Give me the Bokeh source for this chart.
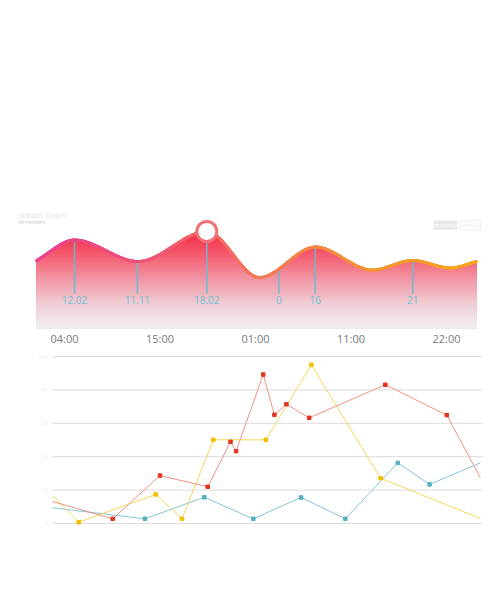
import numpy as np
from bokeh.plotting import figure
from bokeh.layouts import column
from bokeh.models import Range1d, FixedTicker, Label
from bokeh.core.properties import value
from bokeh.embed import file_html
from bokeh.resources import INLINE

# ---------------- data: top wave chart ----------------
time_ticks = [1, 2, 3, 4, 5]
time_labels = ["04:00", "15:00", "01:00", "11:00", "22:00"]
wave_x = [0.707, 1.105, 1.770, 2.490, 3.042, 3.628, 4.222, 4.647, 5.042, 5.314]
wave_y = [6.8, 8.85, 6.7, 9.7, 5.1, 8.15, 5.85, 6.8, 6.05, 6.7]
note_x = [1.105, 1.764, 2.490, 3.244, 3.625, 4.647]
note_labels = ["12.02", "11.11", "18.02", "0", "16", "21"]
peak_index = 3

TITLE = "Statistic Graph"
SUBTITLE = "All members"
TOGGLE = ["monthly", "weekly"]

# ---------------- data: bottom line chart ----------------
y_ticks = [0, 20, 40, 60, 80, 100]
y_tick_labels = ["0", "20", "40", "60", "80", "100"]
red_x = [0, 14.0, 25.0, 36.1, 41.4, 42.7, 49.0, 51.6, 54.4, 59.7, 77.4, 91.7, 99.5]
red_y = [13.2, 2.8, 28.7, 22.0, 48.9, 43.3, 89.2, 65.1, 71.4, 63.3, 83.1, 64.9, 27.4]
yellow_x = [0, 6.1, 24.0, 30.1, 37.4, 49.6, 60.2, 76.3, 99.5]
yellow_y = [16.8, 0.8, 17.4, 2.8, 50.1, 50.1, 95.0, 27.1, 3.0]
teal_x = [0, 21.5, 35.3, 46.7, 57.8, 68.1, 80.3, 87.7, 99.5]
teal_y = [9.4, 2.8, 15.7, 2.8, 15.6, 2.8, 36.3, 23.4, 36.3]


def pchip(xk, yk, xs):
    xk = np.asarray(xk, float)
    yk = np.asarray(yk, float)
    h = np.diff(xk)
    d = np.diff(yk) / h
    n = len(xk)
    m = np.zeros(n)
    for i in range(1, n - 1):
        if d[i - 1] * d[i] > 0:
            w1 = 2 * h[i] + h[i - 1]
            w2 = h[i] + 2 * h[i - 1]
            m[i] = (w1 + w2) / (w1 / d[i - 1] + w2 / d[i])
    m[0] = d[0]
    m[-1] = d[-1]
    xs = np.asarray(xs, float)
    idx = np.clip(np.searchsorted(xk, xs) - 1, 0, n - 2)
    t = (xs - xk[idx]) / h[idx]
    h00 = 2 * t**3 - 3 * t**2 + 1
    h10 = t**3 - 2 * t**2 + t
    h01 = -2 * t**3 + 3 * t**2
    h11 = t**3 - t**2
    return (h00 * yk[idx] + h10 * h[idx] * m[idx]
            + h01 * yk[idx + 1] + h11 * h[idx] * m[idx + 1])


def mix(stops, t):
    for (t0, c0), (t1, c1) in zip(stops[:-1], stops[1:]):
        if t <= t1:
            f = 0 if t1 == t0 else max(0.0, (t - t0) / (t1 - t0))
            c = [round(a + (b - a) * f) for a, b in zip(c0, c1)]
            return "#%02x%02x%02x" % tuple(c)
    return "#%02x%02x%02x" % stops[-1][1]


FONT = value("Open Sans")

# ---------------- top figure ----------------
top = figure(width=500, height=348, output_backend="svg", toolbar_location=None,
             x_range=Range1d(0.4136, 5.4817), y_range=Range1d(0, 32),
             min_border_left=8, min_border_right=8, min_border_top=8, min_border_bottom=20)
top.outline_line_color = None
top.grid.visible = False
top.yaxis.visible = False
top.background_fill_color = "white"
top.border_fill_color = "white"

xs = np.linspace(wave_x[0], wave_x[-1], 500)
ys = pchip(wave_x, wave_y, xs)

fill_stops = [(0, (241, 239, 240)), (2.5, (240, 205, 212)), (5, (242, 148, 163)),
              (7.5, (245, 88, 108)), (10, (246, 36, 64))]
ytop = float(ys.max())
N = 70
for k in range(N - 1, -1, -1):
    hi = (k + 1) * ytop / N
    mid = (k + 0.5) * ytop / N
    top.varea(x=xs, y1=0, y2=np.minimum(ys, hi), fill_color=mix(fill_stops, mid))

# annotation stems and labels
note_top = pchip(wave_x, wave_y, note_x)
top.segment(x0=note_x, y0=note_top, x1=note_x, y1=[3.5] * len(note_x),
            line_color="#5fbfd4", line_width=1.7, line_alpha=0.8)
top.text(x=note_x, y=[2.9] * len(note_x), text=note_labels, text_align="center",
         text_baseline="middle", text_font=FONT, text_font_size="10px",
         text_color="#6cc3d6")

# gradient stroke
line_stops = [(0.70, (233, 64, 150)), (1.8, (238, 82, 118)), (2.5, (241, 105, 105)),
              (3.6, (245, 135, 70)), (4.6, (247, 155, 40)), (5.32, (248, 165, 25))]
mids = (xs[:-1] + xs[1:]) / 2
cols = [mix(line_stops, m) for m in mids]
top.segment(x0=xs[:-1], y0=ys[:-1], x1=xs[1:], y1=ys[1:], line_color=cols,
            line_width=3, line_cap="round")

# highlighted peak
top.scatter(x=[wave_x[peak_index]], y=[wave_y[peak_index]], marker="circle", size=20,
            fill_color="white", line_color="#f07075", line_width=3)

# title texts
top.add_layout(Label(x=0.52, y=11.35, text=TITLE, text_baseline="middle",
                     text_font="Open Sans", text_font_size="7px", text_color="#e2e2e2"))
top.add_layout(Label(x=0.52, y=10.65, text=SUBTITLE, text_baseline="middle",
                     text_font="Open Sans", text_font_size="4.5px", text_color="#c8c8c8"))
# toggle
top.quad(left=[4.864], right=[5.115], top=[10.8], bottom=[9.87],
         fill_color="#e8e8e8", line_color=None)
top.quad(left=[5.136], right=[5.356], top=[10.8], bottom=[9.87],
         fill_color="white", line_color="#efefef", line_width=1)
top.text(x=[4.99, 5.246], y=[10.33, 10.33], text=TOGGLE, text_align="center",
         text_baseline="middle", text_font=FONT, text_font_size="6px",
         text_color=["#ffffff", "#eeeeee"])

ax = top.xaxis[0]
ax.ticker = FixedTicker(ticks=time_ticks)
ax.major_label_overrides = {t: l for t, l in zip(time_ticks, time_labels)}
ax.axis_line_color = None
ax.major_tick_line_color = None
ax.minor_tick_line_color = None
ax.major_tick_out = 0
ax.major_tick_in = 0
ax.minor_tick_out = 0
ax.major_label_standoff = 2
ax.major_label_text_font = "Open Sans"
ax.major_label_text_font_size = "11px"
ax.major_label_text_color = "#7a7a7a"

# ---------------- bottom figure ----------------
bot = figure(width=500, height=190, output_backend="svg", toolbar_location=None,
             x_range=Range1d(-10.233, 102.326), y_range=Range1d(-3, 103),
             min_border_left=8, min_border_right=8, min_border_top=3, min_border_bottom=10)
bot.outline_line_color = None
bot.xaxis.visible = False
bot.yaxis.visible = False
bot.grid.visible = False

# horizontal grid lines spanning the data domain, and their faint labels
bot.segment(x0=[0] * len(y_ticks), y0=y_ticks, x1=[100] * len(y_ticks), y1=y_ticks,
            line_color="#dcdcdc", line_width=1)
bot.text(x=[-1.0] * len(y_ticks), y=y_ticks, text=y_tick_labels, text_align="right",
         text_baseline="middle", text_font=FONT, text_font_size="6px",
         text_color="#ececec")

series = [
    (teal_x, teal_y, "#86c6d4", "#55b0c4"),
    (yellow_x, yellow_y, "#f8d658", "#f3c000"),
    (red_x, red_y, "#f09384", "#e2341e"),
]
for sx, sy, lc, mc in series:
    bot.line(sx, sy, line_color=lc, line_width=1)
    bot.scatter(sx[1:-1], sy[1:-1], marker="square", size=3.5, fill_color=mc, line_color=mc)

layout = column(top, bot, spacing=0)
open("out.html", "w").write(file_html(layout, INLINE))
